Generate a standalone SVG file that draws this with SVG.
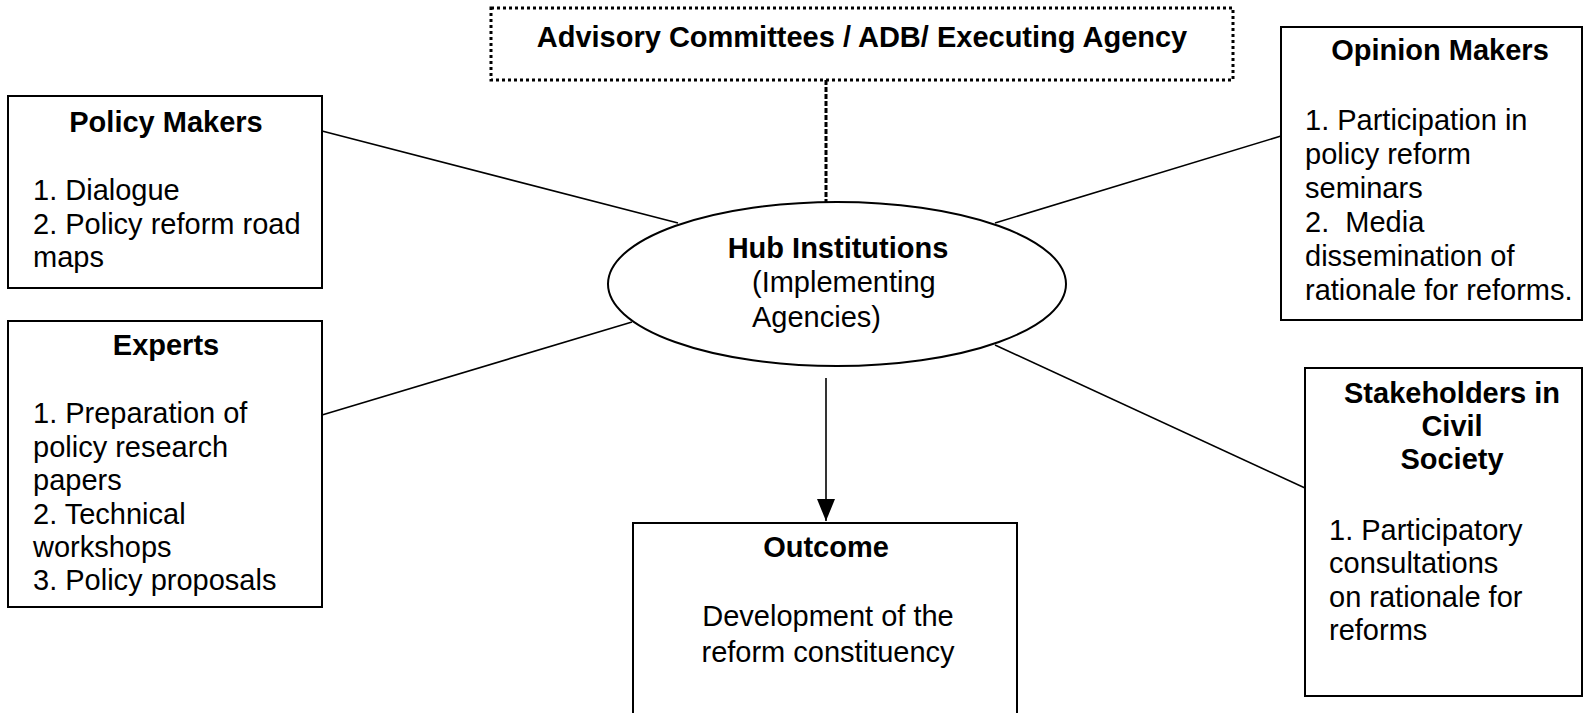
<svg xmlns="http://www.w3.org/2000/svg" width="1583" height="713" viewBox="0 0 1583 713">
<style>
  text { font-family: "Liberation Sans", Arial, sans-serif; font-size: 29px; fill: #000; }
  .b { font-weight: bold; text-anchor: middle; }
  .c { text-anchor: middle; }
  .box { fill: #fff; stroke: #000; stroke-width: 2; }
  .dot { fill: #fff; stroke: #000; stroke-width: 3; stroke-dasharray: 3 3; }
  .ln { stroke: #000; stroke-width: 1.6; fill: none; }
</style>
<defs>
  <marker id="arr" viewBox="0 0 22 18" refX="22" refY="9" markerWidth="22" markerHeight="18" markerUnits="userSpaceOnUse" orient="auto">
    <path d="M0,0 L22,9 L0,18 Z" fill="#000"/>
  </marker>
</defs>
<rect width="1583" height="713" fill="#fff"/>
<g id="connectors">
  <line class="ln" x1="322" y1="131" x2="678" y2="223"/>
  <line class="ln" x1="322" y1="415" x2="632" y2="322"/>
  <line class="ln" x1="995" y1="223" x2="1281" y2="136"/>
  <line class="ln" x1="995" y1="345" x2="1305" y2="488"/>
  <line x1="826" y1="80" x2="826" y2="202" stroke="#000" stroke-width="3" stroke-dasharray="5 2"/>
  <line class="ln" x1="826" y1="378" x2="826" y2="521" marker-end="url(#arr)"/>
</g>
<g id="advisory">
  <rect class="dot" x="491" y="8" width="742" height="72"/>
  <text class="b" x="862" y="47">Advisory Committees / ADB/ Executing Agency</text>
</g>
<g id="hub">
  <ellipse cx="837" cy="284" rx="229" ry="82" fill="#fff" stroke="#000" stroke-width="2"/>
  <text class="b" x="838" y="258">Hub Institutions</text>
  <text x="752" y="292">(Implementing</text>
  <text x="752" y="327">Agencies)</text>
</g>
<g id="policy-makers">
  <rect class="box" x="8" y="96" width="314" height="192"/>
  <text class="b" x="166" y="132">Policy Makers</text>
  <text x="33" y="200">1. Dialogue</text>
  <text x="33" y="234">2. Policy reform road</text>
  <text x="33" y="267">maps</text>
</g>
<g id="experts">
  <rect class="box" x="8" y="321" width="314" height="286"/>
  <text class="b" x="166" y="355">Experts</text>
  <text x="33" y="423">1. Preparation of</text>
  <text x="33" y="457">policy research</text>
  <text x="33" y="490">papers</text>
  <text x="33" y="524">2. Technical</text>
  <text x="33" y="557">workshops</text>
  <text x="33" y="590">3. Policy proposals</text>
</g>
<g id="opinion-makers">
  <rect class="box" x="1281" y="27" width="301" height="293"/>
  <text class="b" x="1440" y="60">Opinion Makers</text>
  <text x="1305" y="130">1. Participation in</text>
  <text x="1305" y="164">policy reform</text>
  <text x="1305" y="198">seminars</text>
  <text x="1305" y="232" xml:space="preserve">2.  Media</text>
  <text x="1305" y="266">dissemination of</text>
  <text x="1305" y="300">rationale for reforms.</text>
</g>
<g id="stakeholders">
  <rect class="box" x="1305" y="368" width="277" height="328"/>
  <text class="b" x="1452" y="403">Stakeholders in</text>
  <text class="b" x="1452" y="436">Civil</text>
  <text class="b" x="1452" y="469">Society</text>
  <text x="1329" y="540">1. Participatory</text>
  <text x="1329" y="573">consultations</text>
  <text x="1329" y="607">on rationale for</text>
  <text x="1329" y="640">reforms</text>
</g>
<g id="outcome">
  <rect class="box" x="633" y="523" width="384" height="200"/>
  <text class="b" x="826" y="557">Outcome</text>
  <text class="c" x="828" y="626">Development of the</text>
  <text class="c" x="828" y="662">reform constituency</text>
</g>
</svg>
